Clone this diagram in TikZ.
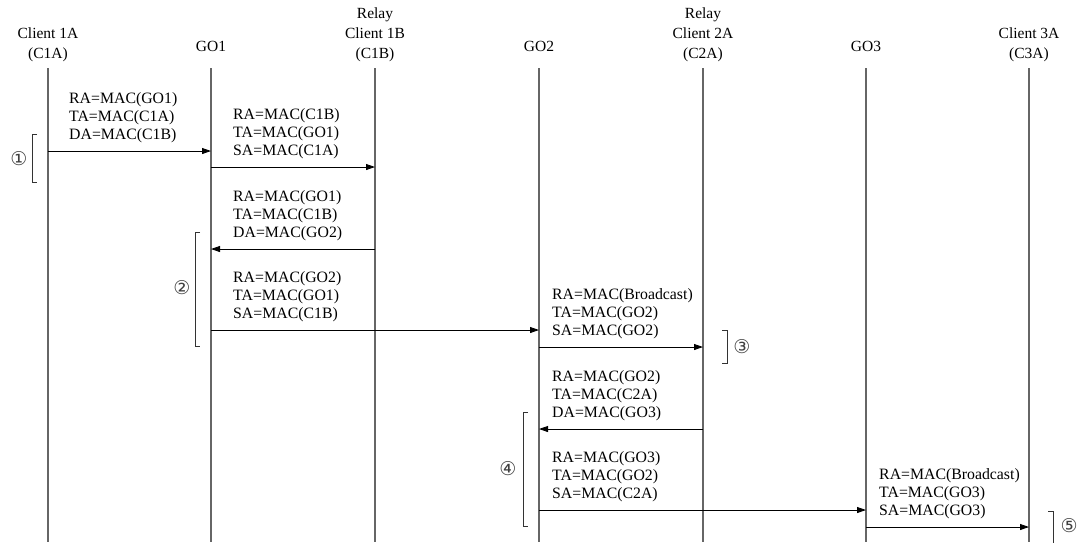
\documentclass[tikz,border=0pt]{standalone}
\usepackage{fontspec}
\setmainfont{Liberation Serif}
\newfontfamily\circfont{DejaVu Sans}
\usetikzlibrary{arrows.meta}
\begin{document}
\begin{tikzpicture}[x=1pt,y=-1pt,
  head/.style={align=center,font=\fontsize{15.5}{20}\selectfont,inner sep=0pt},
  lbl/.style={align=left,anchor=south west,font=\fontsize{15.8}{18}\selectfont,inner sep=0pt},
  life/.style={draw=black!60,line width=1.1pt},
  msg/.style={draw=black,line width=0.8pt,-{Triangle[length=9pt,width=6pt]}},
  brk/.style={draw=black!80,line width=0.8pt},
  circ/.style={font=\circfont\fontsize{19}{19}\selectfont,text=black!75,inner sep=0pt}]
\useasboundingbox (0,0) rectangle (1083,542);
% headers
\node[head] (hC1A) at (48,45) {Client 1A\\(C1A)};
\node[head] (hGO1) at (211,46) {GO1};
\node[head] (hC1B) at (375,35) {Relay\\Client 1B\\(C1B)};
\node[head] (hGO2) at (539,46) {GO2};
\node[head] (hC2A) at (703,35) {Relay\\Client 2A\\(C2A)};
\node[head] (hGO3) at (866,46) {GO3};
\node[head] (hC3A) at (1029,45) {Client 3A\\(C3A)};
% lifelines
\foreach \n/\x in {C1A/48,GO1/211,C1B/375,GO2/539,C2A/703,GO3/866,C3A/1029}{
  \coordinate (\n) at (\x,68);
  \coordinate (\n b) at (\x,542);
  \draw[life] (\n) -- (\n b);
}
% messages
\draw[msg] (C1A |- 0,151) -- (GO1 |- 0,151);
\node[lbl] (m1) at (69,143) {RA=MAC(GO1)\\TA=MAC(C1A)\\DA=MAC(C1B)};
\draw[msg] (GO1 |- 0,167) -- (C1B |- 0,167);
\node[lbl] (m2) at (233,159) {RA=MAC(C1B)\\TA=MAC(GO1)\\SA=MAC(C1A)};
\draw[msg] (C1B |- 0,249) -- (GO1 |- 0,249);
\node[lbl] (m3) at (233,241) {RA=MAC(GO1)\\TA=MAC(C1B)\\DA=MAC(GO2)};
\draw[msg] (GO1 |- 0,330) -- (GO2 |- 0,330);
\node[lbl] (m4) at (233,322) {RA=MAC(GO2)\\TA=MAC(GO1)\\SA=MAC(C1B)};
\draw[msg] (GO2 |- 0,347) -- (C2A |- 0,347);
\node[lbl] (m5) at (552,339) {RA=MAC(Broadcast)\\TA=MAC(GO2)\\SA=MAC(GO2)};
\draw[msg] (C2A |- 0,429) -- (GO2 |- 0,429);
\node[lbl] (m6) at (552,421) {RA=MAC(GO2)\\TA=MAC(C2A)\\DA=MAC(GO3)};
\draw[msg] (GO2 |- 0,510) -- (GO3 |- 0,510);
\node[lbl] (m7) at (552,502) {RA=MAC(GO3)\\TA=MAC(GO2)\\SA=MAC(C2A)};
\draw[msg] (GO3 |- 0,527) -- (C3A |- 0,527);
\node[lbl] (m8) at (879,519) {RA=MAC(Broadcast)\\TA=MAC(GO3)\\SA=MAC(GO3)};
% brackets
\draw[brk] (37,134) -- (32,134) -- (32,182) -- (37,182);
\node[circ] (c1) at (19,159) {①};
\draw[brk] (200,232) -- (195,232) -- (195,346) -- (200,346);
\node[circ] (c2) at (182,288) {②};
\draw[brk] (722,330) -- (727,330) -- (727,363) -- (722,363);
\node[circ] (c3) at (742,347) {③};
\draw[brk] (528,412) -- (523,412) -- (523,526) -- (528,526);
\node[circ] (c4) at (508,469) {④};
\draw[brk] (1048,511) -- (1053,511) -- (1053,545);
\node[circ] (c5) at (1069,526) {⑤};
\end{tikzpicture}
\end{document}
